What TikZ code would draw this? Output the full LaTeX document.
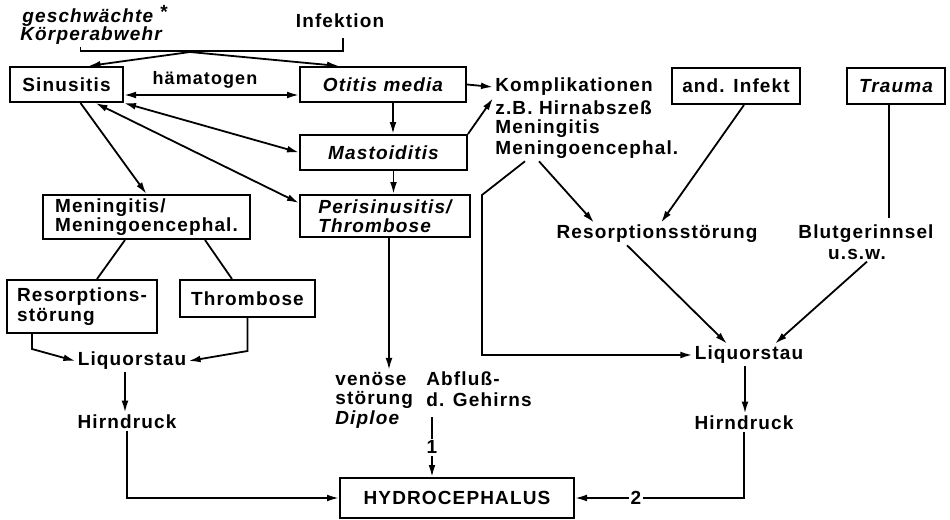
\documentclass[tikz,border=0pt]{standalone}
\usepackage{fontspec}
\setmainfont[LetterSpace=6]{Liberation Sans}
\usetikzlibrary{arrows.meta}

\begin{document}
\begin{tikzpicture}[
    x=0.5pt,
    y=-0.5pt,
    font=\fontsize{9.5}{9.5}\selectfont\bfseries,
    box/.style={draw, line width=1pt, inner sep=0pt, align=left},
    txt/.style={inner sep=1pt},
    it/.style={font=\fontsize{9.5}{9.5}\selectfont\bfseries\itshape},
    line/.style={line width=0.9pt},
    arr/.style={line width=0.9pt, -{Latex[length=6pt,width=3.4pt]}},
    darr/.style={line width=0.9pt, {Latex[length=6pt,width=3.4pt]}-{Latex[length=6pt,width=3.4pt]}}
  ]
    \useasboundingbox (0,0) rectangle (950,520);
    % top
    \node[txt, it, anchor=west] (wehr1) at (20,16) {geschwächte \raisebox{2pt}{*}};
    \node[txt, it, anchor=west] (wehr2) at (18,36) {Körperabwehr};
    \node[txt] (infektion) at (340,21) {Infektion};
    \node[txt, font=\fontsize{9}{9}\selectfont\bfseries] (haema) at (205,80) {hämatogen};
    % boxes
    \node[box, minimum width=56.5pt, minimum height=17.5pt] (sinus) at (66.5,84.5) {Sinusitis};
    \node[box, it, minimum width=83pt, minimum height=17.5pt] (otitis) at (383,84.5) {Otitis media};
    \node[box, it, minimum width=83.5pt, minimum height=17.5pt] (mastoid) at (383.5,152.5) {Mastoiditis};
    \node[box, it, minimum width=85pt, minimum height=21pt] (peri) at (385,216) {Perisinusitis/\\Thrombose};
    \node[box, minimum width=103.5pt, minimum height=22pt] (menin) at (146.5,217) {Meningitis/\\Meningoencephal.};
    \node[box, minimum width=75pt, minimum height=26.5pt] (resoL) at (82,306.5) {Resorptions-\\[0.5pt]störung};
    \node[box, minimum width=67.5pt, minimum height=18.5pt] (thromb) at (247.5,298.5) {Thrombose};
    \node[box, minimum width=64pt, minimum height=18pt] (infekt) at (736,86) {and. Infekt};
    \node[box, it, minimum width=49pt, minimum height=18pt] (trauma) at (896,86) {Trauma};
    \node[box, minimum width=117pt, minimum height=20pt] (hydro) at (457,498) {HYDROCEPHALUS};
    % free texts
    \node[txt, anchor=west] (kompl1) at (493,87) {Komplikationen};
    \node[txt, anchor=west] (kompl2) at (493,108) {z.B. Hirnabszeß};
    \node[txt, anchor=west] (kompl3) at (493,129) {Meningitis};
    \node[txt, anchor=west] (kompl4) at (493,150) {Meningoencephal.};
    \node[txt] (reso) at (657,234) {Resorptionsstörung};
    \node[txt] (blut) at (866,234) {Blutgerinnsel};
    \node[txt] (usw) at (857,254) {u.s.w.};
    \node[txt] (liqL) at (132,361) {Liquorstau};
    \node[txt] (hirnL) at (127,422) {Hirndruck};
    \node[txt] (liqR) at (749,355) {Liquorstau};
    \node[txt] (hirnR) at (744,423) {Hirndruck};
    \node[txt, anchor=west] (ven1) at (333,379) {venöse};
    \node[txt, anchor=west] (ven2) at (333,400) {störung};
    \node[txt, it, anchor=west] (ven3) at (333,420) {Diploe};
    \node[txt, anchor=west] (abfl1) at (424,379) {Abfluß-};
    \node[txt, anchor=west] (abfl2) at (424,400) {d. Gehirns};
    \coordinate (split) at (190,52);
    \coordinate (bend) at (482,195);

    \draw[line] ([xshift=-5.25pt]wehr2.south) -- ++(0,4) -| ([xshift=1.5pt,yshift=-4pt]infektion.south);
    \draw[arr] (split) -- ([xshift=11pt]sinus.north);
    \draw[arr] (split) -- ([xshift=20pt]otitis.north west);
    \draw[darr] ([yshift=-5.25pt]sinus.east) -- ([yshift=-5.25pt]sinus.east -| otitis.west);
    \draw[darr] (sinus.south east) -- (mastoid.west);
    \draw[darr] ([xshift=14.5pt]sinus.south) -- ([yshift=6.5pt]peri.west);
    \draw[arr] ([xshift=7pt]sinus.south) -- (menin.north);
    \draw[arr] ([xshift=5pt]otitis.south) -- ([xshift=5pt]otitis.south |- mastoid.north);
    \draw[arr] ([xshift=5pt]mastoid.south) -- ([xshift=5pt]mastoid.south |- peri.north);
    \draw[arr] (otitis.east) -- (kompl1.west);
    \draw[arr] (mastoid.north east) -- (kompl1.south west);
    % left branch
    \draw[line] ([xshift=-10.75pt]menin.south) -- ([xshift=7.5pt]resoL.north);
    \draw[line] ([xshift=29.25pt]menin.south) -- ([xshift=-7.75pt]thromb.north);
    \draw[arr] ([xshift=13pt]resoL.south west) -- ++(0,15) -- (liqL.west);
    \draw[arr] (thromb.south) -- ++(0,33) -- (liqL.east);
    \draw[arr] ([xshift=-3.5pt]liqL.south) -- ([xshift=-3.5pt]liqL.south |- hirnL.north);
    \draw[arr] (hirnL.south) |- (hydro.west);
    % middle
    \draw[arr] ([xshift=2pt]peri.south) -- ([xshift=2pt]peri.south |- ven1.north);
    \draw[arr] ([xshift=4pt,yshift=-4pt]abfl2.south west) -- node[fill=white, inner sep=1pt] {1} ([xshift=4pt]abfl2.south west |- hydro.north);
    % right branch
    \draw[arr] ([xshift=23pt]kompl4.south west) -- ([xshift=20pt]reso.north west);
    \draw[arr] ([xshift=16pt]kompl4.south west) -- (bend) |- (liqR.west);
    \draw[arr] ([xshift=4pt]infekt.south) -- ([xshift=2pt]reso.north);
    \draw[line] ([xshift=-3.5pt]trauma.south) -- ++(0,113);
    \draw[arr] ([xshift=-15pt]reso.south) -- ([xshift=-11pt]liqR.north);
    \draw[arr] ([xshift=5pt]usw.south) -- ([xshift=13pt]liqR.north);
    \draw[arr] ([xshift=-2pt]liqR.south) -- ([xshift=-2pt]liqR.south |- hirnR.north);
    \draw[arr] (hirnR.south) |- node[pos=0.82, fill=white, inner sep=1pt] {2} (hydro.east);
\end{tikzpicture}
\end{document}
